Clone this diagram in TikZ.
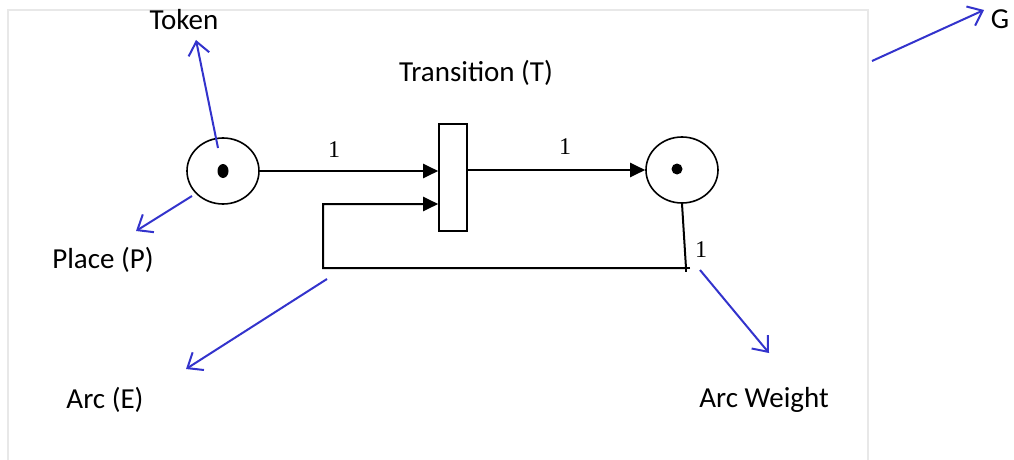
\documentclass[tikz,border=0pt]{standalone}
\usepackage{fontspec}
\setmainfont{Carlito}
\newfontfamily\numfont{Liberation Serif}
\usepackage{tikz}
\usetikzlibrary{arrows.meta, positioning, shapes.geometric, calc}
\definecolor{PtrBlue}{RGB}{51, 51, 204}
\definecolor{FrameGray}{RGB}{232, 232, 232}

\begin{document}
\begin{tikzpicture}[x=1pt, y=-1pt, font=\fontsize{29}{34}\selectfont,
  place/.style={draw, ellipse, line width=1.6pt, minimum width=72pt, minimum height=66pt, inner sep=0pt},
  trans/.style={draw, rectangle, line width=1.6pt, minimum width=28pt, minimum height=107pt, inner sep=0pt},
  arc/.style={line width=2pt, -{Triangle[length=15pt, width=14pt]}},
  pointer/.style={PtrBlue, line width=2pt, -{Straight Barb[length=13pt, width=21pt]}},
  wt/.style={font=\numfont\fontsize{24}{28}\selectfont, inner sep=0pt},
  lbl/.style={inner sep=0pt}]
\useasboundingbox (0,0) rectangle (1014,460);
\draw[FrameGray, line width=1.2pt] (8,460) -- (8,10) -- (868,10) -- (868,460);
\node[place] (p1) at (223,171) {}; \fill (p1.center) ellipse [x radius=5.5pt, y radius=7pt];
\node[place] (p2) at (682,170) {}; \fill ($(p2.center)+(-5,-1)$) circle (5.5pt);
\node[trans] (t) at (453,177.5) {};
\draw[arc] (p1.east) -- (t.west |- p1.east);
\draw[arc] (t.east |- p2.west) -- (p2.west);
\coordinate (fbR) at (686,268); \coordinate (fbL) at (323,268); \coordinate (fbT) at (323,204);
\draw[arc] (p2.south) -- (fbR) -- (fbL) -- (fbT) -- (t.west |- fbT);
\draw[line width=1.5pt] ($(fbR)+(4,0)$) -- (fbR) -- ++(0,4);
\foreach \n/\x/\y in {w1/334/150, w2/565/147, w3/701/250} { \node[wt] (\n) at (\x,\y) {1}; }
\node[lbl] (token) at (184,20) {Token};
\node[lbl] (placeL) at (103,260) {Place (P)};
\node[lbl] (transL) at (476,73) {Transition (T)};
\node[lbl] (arcL) at (105,400) {Arc (E)};
\node[lbl] (weightL) at (764,400) {Arc Weight};
\node[lbl] (graphL) at (1000,19) {G};
\coordinate (tokS) at (218,148); \coordinate (tokE) at (196,40);
\coordinate (plS) at (192,196); \coordinate (plE) at (136,231);
\coordinate (arcS) at (327,279); \coordinate (arcE) at (186,369);
\coordinate (wtS) at (700,270); \coordinate (wtE) at (769,353);
\coordinate (grS) at (872,61); \coordinate (grE) at (984,10);
\foreach \s/\e in {tokS/tokE, plS/plE, arcS/arcE, wtS/wtE, grS/grE} { \draw[pointer] (\s) -- (\e); }
\end{tikzpicture}
\end{document}
